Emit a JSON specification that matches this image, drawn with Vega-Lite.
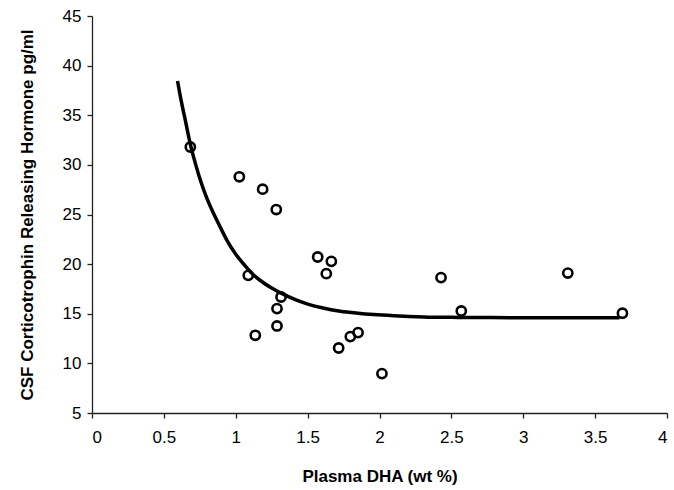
{
  "$schema": "https://vega.github.io/schema/vega-lite/v6.json",
  "autosize": "none",
  "padding": {"left": 92, "top": 16, "right": 7, "bottom": 77},
  "width": 575,
  "height": 397,
  "background": "white",
  "config": {
    "view": {"stroke": null},
    "axis": {"grid": false, "domainColor": "#222", "tickColor": "#222", "labelColor": "#000", "titleColor": "#000", "labelFont": "Liberation Sans", "titleFont": "Liberation Sans", "labelFontSize": 17, "titleFontSize": 17, "titleFontWeight": "bold", "domainWidth": 1.3, "tickWidth": 1.3}
  },
  "datasets": {
    "points": [
      {"dha": 0.684, "crh": 31.8},
      {"dha": 1.025, "crh": 28.8},
      {"dha": 1.187, "crh": 27.55},
      {"dha": 1.282, "crh": 25.5},
      {"dha": 1.087, "crh": 18.87},
      {"dha": 1.315, "crh": 16.69},
      {"dha": 1.287, "crh": 15.52},
      {"dha": 1.287, "crh": 13.77},
      {"dha": 1.136, "crh": 12.83},
      {"dha": 1.57, "crh": 20.72},
      {"dha": 1.665, "crh": 20.28},
      {"dha": 1.63, "crh": 19.04},
      {"dha": 1.716, "crh": 11.55},
      {"dha": 1.797, "crh": 12.7},
      {"dha": 1.851, "crh": 13.1},
      {"dha": 2.017, "crh": 8.97},
      {"dha": 2.428, "crh": 18.64},
      {"dha": 2.569, "crh": 15.28},
      {"dha": 3.31, "crh": 19.1},
      {"dha": 3.69, "crh": 15.05}
    ],
    "curve": [
      {"dha": 0.595, "crh": 38.45},
      {"dha": 0.62, "crh": 36.5},
      {"dha": 0.649, "crh": 34.5},
      {"dha": 0.684, "crh": 32.1},
      {"dha": 0.72, "crh": 30.1},
      {"dha": 0.754, "crh": 28.45},
      {"dha": 0.8, "crh": 26.6},
      {"dha": 0.846, "crh": 25.1},
      {"dha": 0.9, "crh": 23.5},
      {"dha": 0.939, "crh": 22.4},
      {"dha": 1.0, "crh": 21.0},
      {"dha": 1.055, "crh": 20.0},
      {"dha": 1.11, "crh": 19.1},
      {"dha": 1.171, "crh": 18.35},
      {"dha": 1.25, "crh": 17.6},
      {"dha": 1.333, "crh": 16.95},
      {"dha": 1.41, "crh": 16.45},
      {"dha": 1.496, "crh": 16.0},
      {"dha": 1.6, "crh": 15.6},
      {"dha": 1.727, "crh": 15.25},
      {"dha": 1.85, "crh": 15.05},
      {"dha": 1.959, "crh": 14.92},
      {"dha": 2.1, "crh": 14.8},
      {"dha": 2.307, "crh": 14.68},
      {"dha": 2.55, "crh": 14.63},
      {"dha": 2.77, "crh": 14.61},
      {"dha": 3.2, "crh": 14.6},
      {"dha": 3.67, "crh": 14.6}
    ]
  },
  "layer": [
    {
      "data": {"name": "curve"},
      "mark": {"type": "line", "color": "black", "strokeWidth": 3.5, "interpolate": "monotone"},
      "encoding": {
        "x": {"field": "dha", "type": "quantitative", "scale": {"domain": [0, 4], "nice": false}, "axis": {"title": "Plasma DHA (wt %)", "values": [0, 0.5, 1, 1.5, 2, 2.5, 3, 3.5, 4], "labelExpr": "datum.value", "tickSize": 5, "labelPadding": 11, "titlePadding": 23}},
        "y": {"field": "crh", "type": "quantitative", "scale": {"domain": [5, 45], "nice": false, "zero": false}, "axis": {"title": "CSF Corticotrophin Releasing Hormone pg/ml", "values": [5, 10, 15, 20, 25, 30, 35, 40, 45], "tickSize": 5, "labelPadding": 6, "titlePadding": 26}}
      }
    },
    {
      "data": {"name": "points"},
      "mark": {"type": "point", "shape": "circle", "filled": false, "color": "black", "strokeWidth": 2.6, "size": 85, "opacity": 1},
      "encoding": {
        "x": {"field": "dha", "type": "quantitative"},
        "y": {"field": "crh", "type": "quantitative"}
      }
    }
  ]
}
